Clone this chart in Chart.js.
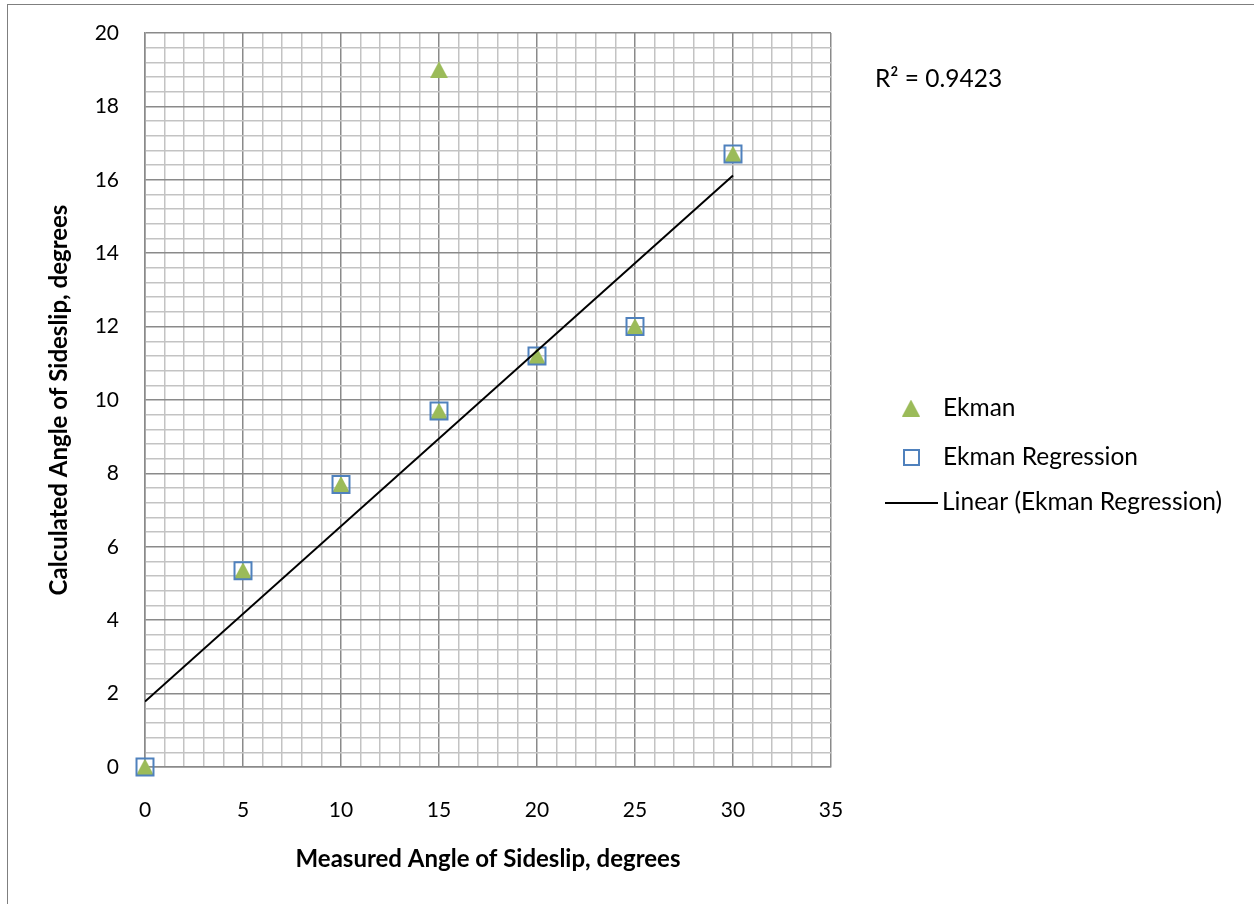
<!DOCTYPE html>
<html>
<head>
<meta charset="utf-8">
<script src="https://cdn.jsdelivr.net/npm/chart.js@4/dist/chart.umd.min.js"></script>
<style>
html,body{margin:0;padding:0;background:#fff;}
#wrap{width:1254px;height:904px;position:relative;}
</style>
</head>
<body>
<div id="wrap"><canvas id="c" width="1254" height="904"></canvas></div>
<script>
// ---- data ----
const ekmanX = [0, 5, 10, 15, 15, 20, 25, 30];
const ekmanY = [0, 5.35, 7.7, 9.7, 19, 11.2, 12, 16.7];
const regX = [0, 5, 10, 15, 20, 25, 30];
const regY = [0, 5.35, 7.7, 9.7, 11.2, 12, 16.7];
const seriesNames = ['Ekman', 'Ekman Regression', 'Linear (Ekman Regression)'];
const xTitle = 'Measured Angle of Sideslip, degrees';
const yTitle = 'Calculated Angle of Sideslip, degrees';
const r2Label = 'R\u00B2 = 0.9423';
const xMajorTicks = [0, 5, 10, 15, 20, 25, 30, 35];
const yMajorTicks = [0, 2, 4, 6, 8, 10, 12, 14, 16, 18, 20];

// ---- least squares trendline from regression series ----
function linReg(xs, ys) {
  const n = xs.length;
  const mx = xs.reduce((a, b) => a + b, 0) / n;
  const my = ys.reduce((a, b) => a + b, 0) / n;
  let sxy = 0, sxx = 0;
  for (let i = 0; i < n; i++) { sxy += (xs[i] - mx) * (ys[i] - my); sxx += (xs[i] - mx) ** 2; }
  const m = sxy / sxx;
  return { m, b: my - m * mx };
}
const fit = linReg(regX, regY);
const xMin = Math.min(...regX), xMax = Math.max(...regX);
const trend = [xMin, xMax].map(x => ({ x, y: fit.m * x + fit.b }));

const FONT = 'Lato, "Open Sans", sans-serif';
const GREEN = '#9bbb59';
const BLUE = '#4f81bd';
const MAJOR = '#8a8a8a';
const MINOR = '#c3c3c3';

// triangle marker image
function triCanvas(w, h) {
  const c = document.createElement('canvas');
  c.width = w; c.height = h;
  const g = c.getContext('2d');
  g.fillStyle = GREEN;
  g.beginPath();
  g.moveTo(w / 2, 0);
  g.lineTo(w, h);
  g.lineTo(0, h);
  g.closePath();
  g.fill();
  return c;
}
const tri = triCanvas(18, 17);

function isMultiple(v, step) {
  return Math.abs(v / step - Math.round(v / step)) < 1e-6;
}

const frame = {
  id: 'frame',
  beforeDraw(chart) {
    const ctx = chart.ctx;
    ctx.save();
    ctx.fillStyle = '#fff';
    ctx.fillRect(0, 0, chart.width, chart.height);
    ctx.strokeStyle = '#7f7f7f';
    ctx.lineWidth = 1;
    ctx.strokeRect(7.5, 4.5, 3000, 3000);
    ctx.restore();
  },
  afterDraw(chart) {
    const ctx = chart.ctx;
    ctx.save();
    ctx.fillStyle = '#000';
    ctx.font = '24.5px ' + FONT;
    ctx.textBaseline = 'middle';
    ctx.textAlign = 'left';
    ctx.fillText(r2Label, 875, 79);
    // legend
    ctx.drawImage(tri, 911 - 9, 408 - 8.5);
    ctx.fillText(seriesNames[0], 943, 408);
    ctx.strokeStyle = BLUE;
    ctx.lineWidth = 2;
    ctx.strokeRect(904, 450, 15, 15);
    ctx.fillText(seriesNames[1], 943, 457);
    ctx.strokeStyle = '#000';
    ctx.beginPath();
    ctx.moveTo(885, 503);
    ctx.lineTo(938, 503);
    ctx.stroke();
    ctx.fillText(seriesNames[2], 942, 502);
    ctx.restore();
  }
};

new Chart(document.getElementById('c'), {
  type: 'scatter',
  data: {
    datasets: [
      {
        label: seriesNames[0],
        data: ekmanX.map((x, i) => ({ x, y: ekmanY[i] })),
        pointStyle: tri,
        pointRadius: 10,
        clip: false,
        order: 2
      },
      {
        label: seriesNames[1],
        data: regX.map((x, i) => ({ x, y: regY[i] })),
        pointStyle: 'rect',
        pointRadius: 12,
        borderColor: BLUE,
        backgroundColor: 'rgba(0,0,0,0)',
        borderWidth: 2,
        clip: false,
        order: 1
      },
      {
        type: 'line',
        label: seriesNames[2],
        data: trend,
        borderColor: '#000',
        borderWidth: 2,
        pointRadius: 0,
        showLine: true,
        fill: false,
        order: 0
      }
    ]
  },
  options: {
    responsive: false,
    animation: false,
    layout: { padding: { left: 45, right: 423, top: 33, bottom: 30 } },
    plugins: { legend: { display: false }, tooltip: { enabled: false } },
    scales: {
      x: {
        type: 'linear',
        min: 0, max: 35,
        afterFit(s) { s.height = 107; },
        ticks: {
          stepSize: 1, autoSkip: false, maxRotation: 0, padding: 31,
          color: '#000', font: { family: FONT, size: 21 },
          callback: v => (xMajorTicks.some(t => Math.abs(t - v) < 1e-6) ? String(Math.round(v)) : '')
        },
        grid: {
          drawTicks: false,
          lineWidth: 1.5,
          color: c => (isMultiple(c.tick.value, 5) ? MAJOR : MINOR)
        },
        border: { display: true, color: MAJOR, width: 1.5 },
        title: {
          display: true, text: xTitle, color: '#000',
          font: { family: FONT, size: 24, weight: 'bold' },
          padding: { top: 0, bottom: 0 }
        }
      },
      y: {
        type: 'linear',
        min: 0, max: 20,
        afterFit(s) { s.width = 100; s.paddingTop = 0; s.paddingBottom = 0; },
        ticks: {
          stepSize: 0.4, autoSkip: false, padding: 26,
          color: '#000', font: { family: FONT, size: 21 },
          callback: v => (yMajorTicks.some(t => Math.abs(t - v) < 1e-6) ? String(Math.round(v)) : '')
        },
        grid: {
          drawTicks: false,
          lineWidth: 1.5,
          color: c => (isMultiple(c.tick.value, 2) ? MAJOR : MINOR)
        },
        border: { display: true, color: MAJOR, width: 1.5 },
        title: {
          display: true, text: yTitle, color: '#000',
          font: { family: FONT, size: 24, weight: 'bold' },
          padding: { top: 0, bottom: 0 }
        }
      }
    }
  },
  plugins: [frame]
});
</script>
</body>
</html>
